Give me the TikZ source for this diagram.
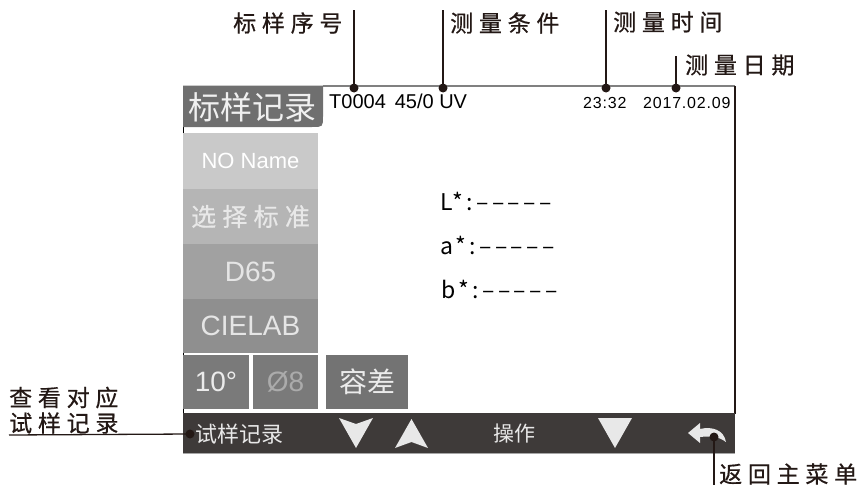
\documentclass[tikz,border=0pt]{standalone}
\usepackage{fontspec}
\setmainfont{Liberation Sans}
\newfontfamily\cjk{Noto Sans CJK SC}
\newfontfamily\lblfont[LetterSpace=25,FakeBold=0.6]{Noto Sans CJK SC}
\newfontfamily\readfont[LetterSpace=15]{Noto Sans CJK SC}
\newfontfamily\timefont[LetterSpace=5]{Liberation Sans}
\usepackage{xcolor}
\usepackage{tikz}
\usetikzlibrary{positioning}
\definecolor{barc}{HTML}{3E3A39}
\definecolor{leadc}{HTML}{231815}
\definecolor{tabc}{HTML}{6F6F6F}
\definecolor{triw}{HTML}{E8E8E8}
\tikzset{
	lbl/.style={anchor=west, inner sep=0pt, text=leadc, font=\lblfont\fontsize{23}{23}\selectfont},
	btn/.style={fill=#1, inner sep=0pt, text=white},
	dot/.style={circle, fill=leadc, inner sep=0pt, minimum size=9pt},
	lead/.style={draw=leadc, line width=1.3pt},
	reading/.style={anchor=base west, inner sep=0pt, font=\readfont\fontsize{23}{23}\selectfont},
}

\begin{document}
\begin{tikzpicture}[x=1pt,y=-1pt]
	\useasboundingbox (0,0) rectangle (862,487);
	% screen frame
	\draw[black, line width=1pt] (183,126) -- (183,414);
	\draw[gray, line width=1.2pt] (323,86) -- (735,86);
	\draw[leadc, line width=1.2pt] (735,86) -- (735,414);
	\fill[tabc] (183,85.5) -- (323,85.5) -- (323,116) .. controls (323,127) .. (312,127) -- (183,127) -- cycle;
	\node[text=white!94!black, font=\cjk\fontsize{32}{32}\selectfont, inner sep=0pt] (tab) at (252.5,107) {标样记录};
	\node[anchor=base west, inner sep=0pt, font=\fontsize{20}{20}\selectfont] (code) at (329,108) {T0004 \,45/0 UV};
	\node[anchor=base west, inner sep=0pt, font=\timefont\fontsize{16}{16}\selectfont] (time) at (583,108) {23:32};
	\node[anchor=base west, inner sep=0pt, font=\timefont\fontsize{16}{16}\selectfont] (date) at (643,108) {2017.02.09};
	% left buttons
	\node[btn=black!21, minimum width=135pt, minimum height=56pt, font=\fontsize{22}{22}\selectfont] (noname) at (250.5,161) {NO Name};
	\node[btn=black!29, text=white!91!black, minimum width=135pt, minimum height=55pt, font=\lblfont\fontsize{25}{25}\selectfont] (std) at (250.5,216.5) {选择标准};
	\node[btn=black!37, text=white!90!black, minimum width=135pt, minimum height=55pt, font=\fontsize{28}{28}\selectfont] (ill) at (250.5,271.5) {D65};
	\node[btn=black!44, text=white!90!black, minimum width=135pt, minimum height=54pt, font=\fontsize{28}{28}\selectfont] (space) at (250.5,326) {CIELAB};
	\node[btn=black!52, text=white!92!black, minimum width=66pt, minimum height=54pt, font=\fontsize{28}{28}\selectfont] (obs) at (216,382) {10°};
	\node[btn=black!52, text=black!33, minimum width=65pt, minimum height=54pt, font=\fontsize{28}{28}\selectfont] (aper) at (285.5,382) {Ø8};
	\node[btn=black!55, text=white!92!black, minimum width=82pt, minimum height=54pt, font=\cjk\fontsize{28}{28}\selectfont] (tol) at (367,382) {容差};
	% readings
	\node[reading] (lval) at (440,210) {L*:–––––};
	\node[reading] (aval) at (440,254) {a*:–––––};
	\node[reading] (bval) at (441,298) {b*:–––––};
	% bottom bar
	\fill[barc] (183,413) rectangle (735,453);
	\draw[gray!70] (183,453.5) -- (735,453.5);
	\node[anchor=west, inner sep=0pt, text=triw, font=\cjk\fontsize{22}{22}\selectfont] (rec) at (195,434) {试样记录};
	\node[inner sep=0pt, text=triw, font=\cjk\fontsize{21}{21}\selectfont] (op) at (514,434) {操作};
	\fill[triw] (339,418) -- (356,424) -- (373,418) -- (356,448) -- cycle;
	\fill[triw] (395,448) -- (411.5,442) -- (428,448) -- (411.5,419) -- cycle;
	\fill[triw] (598,418) -- (632,418) -- (615,448) -- cycle;
	\fill[triw] (688,433) -- (700,423) -- (700,429) .. controls (712,426) and (724,430) .. (726,442) .. controls (718,436) and (710,436) .. (700,437) -- (700,443) -- cycle;
	% callouts
	\node[dot] (p1) at (354,88) {};
	\node[dot] (p2) at (443,88) {};
	\node[dot] (p3) at (606,88) {};
	\node[dot] (p4) at (676,88) {};
	\node[dot] (p5) at (190,434) {};
	\node[dot] (p6) at (714,437) {};
	\coordinate (e1) at (354,10);
	\coordinate (e2) at (443,10);
	\coordinate (e3) at (606,10);
	\coordinate (e4) at (676,56);
	\coordinate (e5) at (9,435);
	\coordinate (e6) at (714,485);
	\node[lbl] (l1) at (233,23) {标样序号};
	\node[lbl] (l2) at (450,23) {测量条件};
	\node[lbl] (l3) at (613,22) {测量时间};
	\node[lbl] (l4) at (685,65) {测量日期};
	\node[lbl] (l5a) at (9,397.5) {查看对应};
	\node[lbl] (l5b) at (9,423) {试样记录};
	\node[lbl] (l6) at (719,474) {返回主菜单};
	\draw[lead] (p1.center) -- (e1);
	\draw[lead] (p2.center) -- (e2);
	\draw[lead] (p3.center) -- (e3);
	\draw[lead] (p4.center) -- (e4);
	\draw[lead] (p5.center) -- (e5);
	\draw[lead] (p6.center) -- (e6);
\end{tikzpicture}
\end{document}
